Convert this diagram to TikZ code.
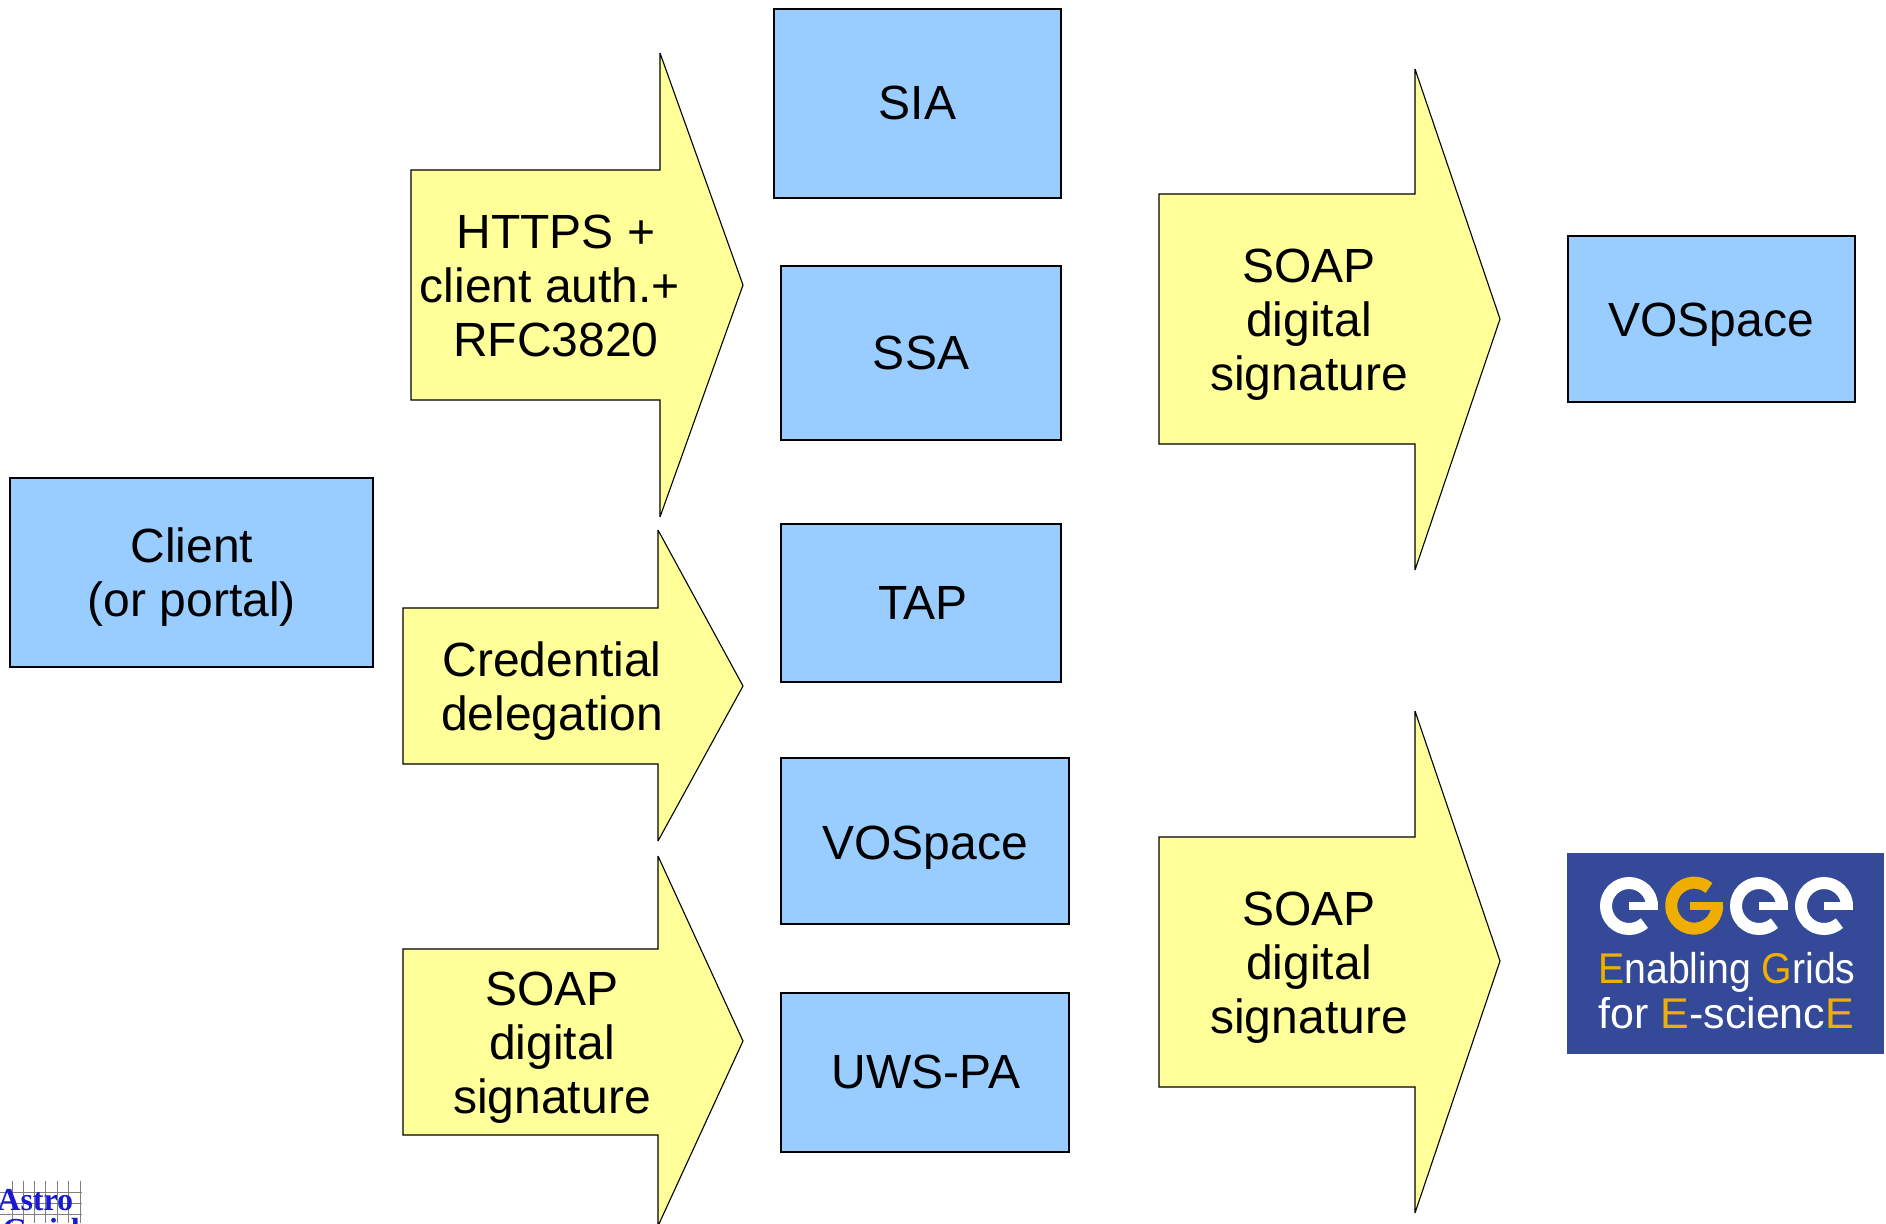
\documentclass[tikz,border=0pt]{standalone}
\usepackage{fontspec}
\setmainfont{Liberation Sans}
\newfontfamily\astrofont{Liberation Serif}
\definecolor{boxblue}{HTML}{99CCFF}
\definecolor{arrowyellow}{HTML}{FFFF99}
\definecolor{logoblue}{HTML}{344A98}
\definecolor{logogold}{HTML}{F0AE00}
\definecolor{astroblue}{HTML}{1A1AD0}
\newcommand{\gold}[1]{{\color{logogold}#1}}
\tikzset{
  x=0.5pt,y=-0.5pt,
  outline/.style={draw=black,line width=0.55pt,line join=miter,miter limit=3},
  service/.style={outline,fill=boxblue},
  bigarrow/.style={outline,fill=arrowyellow},
  caption/.style={font=\fontsize{24}{27}\selectfont,align=center,inner sep=0pt,text=black},
  logoletter/.style={draw=#1,line width=6pt,line cap=butt},
  logobar/.style={draw=#1,line width=4pt},
  logotext/.style={font=\fontsize{21.5}{25}\selectfont,text=white,inner sep=0pt,anchor=base west,transform shape},
  gridline/.style={draw=black!50,line width=0.45pt},
  astrotext/.style={font=\astrofont\bfseries\fontsize{16}{16}\selectfont,text=astroblue,inner sep=0pt,anchor=base west},
}
\newcommand{\logoE}[3]{% centre x, centre y, colour
  \draw[logoletter=#3] (#1+23,#2) arc[start angle=0,end angle=-312,x radius=23,y radius=23];
  \draw[logobar=#3] (#1,#2) -- (#1+29,#2);
}
\begin{document}
\begin{tikzpicture}
\useasboundingbox (0,0) rectangle (1886,1223);
\fill[white] (0,0) rectangle (1886,1223);

% boxes
\draw[service] (10,478) rectangle (373,667);
\node[caption] (client) at (192,577) {Client\\(or portal)};
\draw[service] (774,9) rectangle (1061,198);
\node[caption] (sia) at (917.5,103) {SIA};
\draw[service] (781,266) rectangle (1061,440);
\node[caption] (ssa) at (921,353) {SSA};
\draw[service] (781,524) rectangle (1061,682);
\node[caption] (tap) at (923,603) {TAP};
\draw[service] (781,758) rectangle (1069,924);
\node[caption] (vospacea) at (925,848) {VOSpace};
\draw[service] (781,993) rectangle (1069,1152);
\node[caption] (uws) at (926,1072) {UWS-PA};
\draw[service] (1568,236) rectangle (1855,402);
\node[caption] (vospaceb) at (1711,325) {VOSpace};

% arrows
\draw[bigarrow] (411,170) -- (660,170) -- (660,53) -- (743,285) -- (660,517) -- (660,400) -- (411,400) -- cycle;
\node[caption] (https) at (556,286) {HTTPS +\\\hbox{client auth.+\kern6pt}\\RFC3820};
\draw[bigarrow] (403,608) -- (658,608) -- (658,530) -- (743,686) -- (658,841) -- (658,764) -- (403,764) -- cycle;
\node[caption] (cred) at (552,691) {Credential\\delegation};
\draw[bigarrow] (403,949) -- (658,949) -- (658,856) -- (743,1041) -- (658,1226) -- (658,1135) -- (403,1135) -- cycle;
\node[caption] (soapa) at (552,1048) {SOAP\\digital\\signature};
\draw[bigarrow] (1159,194) -- (1415,194) -- (1415,69) -- (1500,319) -- (1415,570) -- (1415,444) -- (1159,444) -- cycle;
\node[caption] (soapb) at (1309,325) {SOAP\\digital\\signature};
\draw[bigarrow] (1159,837) -- (1415,837) -- (1415,711) -- (1500,961) -- (1415,1213) -- (1415,1087) -- (1159,1087) -- cycle;
\node[caption] (soapc) at (1309,968) {SOAP\\digital\\signature};

% EGEE logo
\fill[logoblue] (1567,853) rectangle (1884,1054);
\logoE{1629}{906}{white}
\draw[logoletter=logogold] (1694+15,906-18) arc[start angle=-50,end angle=-360,x radius=23,y radius=23];
\draw[logobar=logogold] (1690,906) -- (1723,906);
\logoE{1759}{906}{white}
\logoE{1824}{906}{white}
\node[logotext,xscale=0.912] (logoa) at (1598,983) {\gold{E}nabling \gold{G}rids};
\node[logotext,xscale=1.0] (logob) at (1598,1028) {for \gold{E}-scienc\gold{E}};

% AstroGrid logo
\begin{scope}
\clip (0,1170) rectangle (90,1223);
\foreach \gx in {12,23,34,45,57,68,80} \draw[gridline] (\gx,1181) -- (\gx,1223);
\foreach \gy in {1192,1203,1214} \draw[gridline] (0,\gy) -- (82,\gy);
\node[astrotext] (astro) at (-3,1210) {Astro};
\node[astrotext] (grid) at (2,1240) {\addfontfeature{LetterSpace=12}Grid};
\end{scope}
\end{tikzpicture}
\end{document}
